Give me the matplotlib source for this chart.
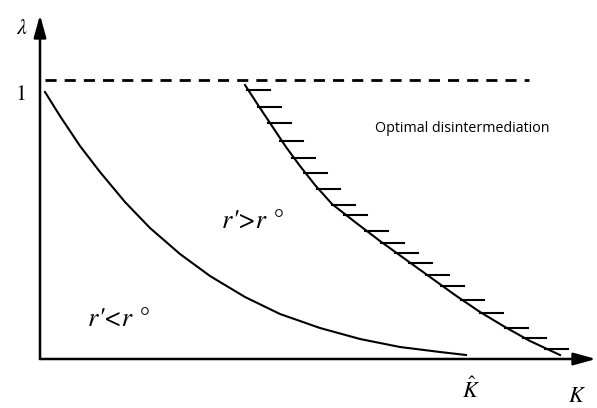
import numpy as np
import matplotlib
matplotlib.use("Agg")
import matplotlib.pyplot as plt

plt.rcParams['mathtext.fontset'] = 'stix'
plt.rcParams['font.family'] = ['Open Sans', 'DejaVu Sans']

# pixel readings from the picture -> (K, lambda); K-hat = 1, lambda = 1 at the dashed line
def to_k(px):
    return (np.asarray(px, dtype=float) - 40) / 426


def to_lam(py):
    return (359 - np.asarray(py, dtype=float)) / 279


# lower curve (r' = r°)
low_px = [45, 60, 80, 100, 125, 150, 180, 210, 245, 280, 320, 360, 400, 440, 466]
low_py = [92, 116, 146, 172, 202, 228, 254, 276, 297, 314, 328, 339, 347, 352, 355]

# upper curve (boundary of optimal disintermediation)
up_px = [245, 258, 272, 286, 300, 315, 332, 355, 380, 405, 430, 455, 480, 505, 530, 560]
up_py = [85, 105, 126, 147, 166, 185, 204, 222, 241, 259, 277, 295, 312, 327, 341, 355]

# heights of the hatch marks on the upper curve
hatch_py = [90, 107, 123, 141, 158, 173, 189, 205, 215, 231,
            243, 253, 263, 275, 286, 300, 313, 328, 338, 349]

k_low, lam_low = to_k(low_px), to_lam(low_py)
k_up, lam_up = to_k(up_px), to_lam(up_py)
hatch_lam = to_lam(hatch_py)

fig = plt.figure(figsize=(5.97, 4.08), dpi=100)
ax = fig.add_axes([0, 0, 1, 1])
ax.set_xlim(to_k(0), to_k(597))
ax.set_ylim(to_lam(408), to_lam(0))
ax.axis('off')

arrow = dict(arrowstyle='-|>,head_length=0.9,head_width=0.25', lw=1.8, color='k',
             mutation_scale=15, shrinkA=0, shrinkB=0)
ax.annotate('', xy=(0, to_lam(15)), xytext=(0, 0), arrowprops=arrow)
ax.annotate('', xy=(to_k(596), 0), xytext=(0, 0), arrowprops=arrow)

# dashed line lambda = 1
ax.plot([to_k(45), to_k(529)], [1, 1], color='k', lw=2, dashes=(4, 2.9))

ax.plot(k_low, lam_low, color='k', lw=1.5)
ax.plot(k_up, lam_up, color='k', lw=1.5)

# hatches: short horizontal ticks to the right of the upper curve
for h in hatch_lam:
    k0 = np.interp(h, lam_up[::-1], k_up[::-1])
    ax.plot([k0 - 0.004, k0 + 0.05], [h, h], color='k', lw=1.5)

serif = dict(family='STIXGeneral', style='italic', ha='center', va='center')
ax.text(to_k(22), to_lam(29), r'$\lambda$', fontsize=16, ha='center', va='center')
ax.text(to_k(21), to_lam(95), '1', fontsize=16, ha='center', va='center', family='STIXGeneral')
ax.text(to_k(462), to_lam(129), 'Optimal disintermediation', fontsize=10.3,
        ha='center', va='center')
ax.text(to_k(252), to_lam(222), "r'>r °", fontsize=19, **serif)
ax.text(to_k(118), to_lam(320), "r'<r °", fontsize=19, **serif)
ax.text(to_k(471), to_lam(390), r'$\hat{K}$', fontsize=16, ha='center', va='center')
ax.text(to_k(577), to_lam(397), r'$K$', fontsize=16, ha='center', va='center')

fig.savefig('out.png', dpi=100)
